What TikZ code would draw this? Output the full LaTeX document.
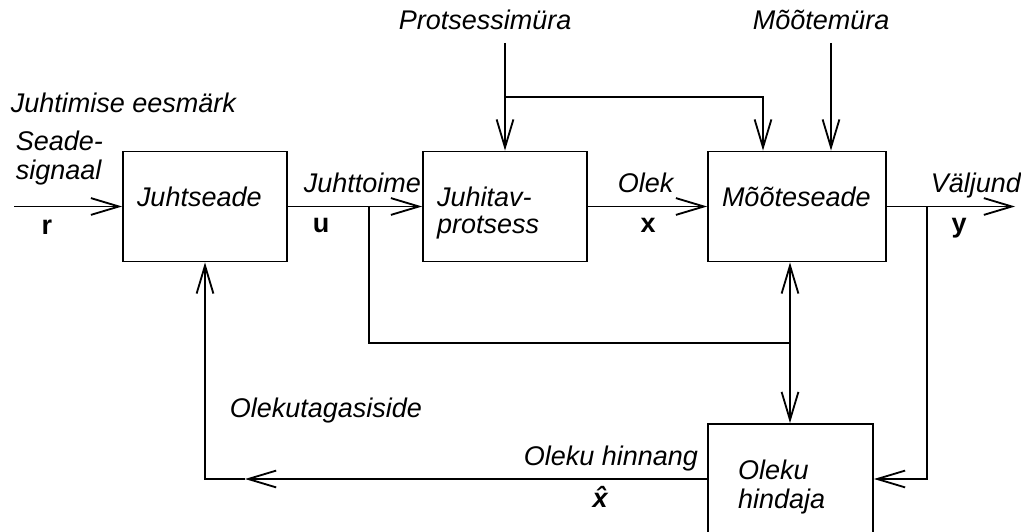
\documentclass[tikz,border=0pt]{standalone}
\usepackage{fontspec}
\setmainfont{Liberation Sans}
\usetikzlibrary{arrows.meta}

\begin{document}
\begin{tikzpicture}[
        font=\fontsize{19.2pt}{18.5pt}\selectfont\itshape,
        line width=1.3pt,
        >={Straight Barb[length=0.7cm,width=0.42cm]},
        plokk/.style={draw, minimum height=2.75cm, align=left, inner xsep=0.35cm,
            text height=0.46cm, text depth=0.435cm, text width=#1},
        plokk/.default=3.4cm,
        silt/.style={anchor=base west, inner sep=0pt, align=left},
        taht/.style={anchor=base, inner sep=0pt, font=\fontsize{19.2pt}{18.5pt}\selectfont\bfseries}
    ]
            \useasboundingbox (0,0) rectangle (25.525,13.275);

            % blocks
            \node[plokk] (juht) at (5.125,8.1125) {Juhtseade};
            \node[plokk] (prots) at (12.625,8.1125) {Juhitav-\\protsess};
            \node[plokk=3.75cm] (moot) at (19.925,8.1125) {Mõõteseade};
            \node[plokk=2.625cm, inner xsep=0.75cm] (hind) at (19.7625,1.3) {Oleku\\[0.075cm]hindaja};

            % branch points
            \coordinate (rin) at (0.35,8.1125);
            \coordinate (ujunc) at (9.225,8.1125);
            \coordinate (ulow) at (9.225,4.7);
            \coordinate (umid) at (19.75,4.7);
            \coordinate (pmtop) at (12.625,12.2);
            \coordinate (pmjunc) at (12.625,10.85);
            \coordinate (pmcorner) at (19.075,10.85);
            \coordinate (mmtop) at (20.775,12.2);
            \coordinate (yjunc) at (23.175,8.1125);
            \coordinate (yout) at (25.375,8.1125);
            \coordinate (fbtip) at (6.125,1.3);

            % main chain
            \draw[->] (rin) -- (juht);
            \draw[->] (juht) -- (prots);
            \draw[->] (prots) -- (moot);
            \draw[->] (moot) -- (yout);

            % noises
            \draw[->] (pmtop) -- (prots);
            \draw[->] (pmjunc) -- (pmcorner) -- (pmcorner |- moot.north);
            \draw[->] (mmtop) -- (mmtop |- moot.north);

            % u to measurement and estimator
            \draw (ujunc) -- (ulow) -- (umid);
            \draw[->] (umid) -- (umid |- moot.south);
            \draw[->] (umid) -- (umid |- hind.north);

            % y to estimator
            \draw[->] (yjunc) -- (yjunc |- hind.east) -- (hind.east);

            % state feedback
            \draw[->] (hind.west) -- (fbtip);
            \draw[->] (fbtip) -- (juht.south |- fbtip) -- (juht.south);

            % labels
            \node[silt] (eesm) at (0.25,10.45) {Juhtimise eesmärk};
            \node[silt] (seade) at (0.375,8.775) {Seade-\\[0.08cm]signaal};
            \node[taht] (r) at (1.17,7.4) {r};
            \node[silt] (juhttoime) at (7.575,8.45) {Juhttoime};
            \node[taht] (u) at (8.025,7.45) {u};
            \node[silt] (olek) at (15.425,8.45) {Olek};
            \node[taht] (x) at (16.2,7.45) {x};
            \node[silt] (valjund) at (23.25,8.45) {Väljund};
            \node[taht] (y) at (23.975,7.45) {y};
            \node[silt] (pmyra) at (9.95,12.525) {Protsessimüra};
            \node[silt] (mmyra) at (18.8,12.525) {Mõõtemüra};
            \node[silt] (tagasi) at (5.725,2.85) {Olekutagasiside};
            \node[silt] (hinnang) at (13.075,1.65) {Oleku hinnang};
            \node[taht] (xhat) at (15.0,0.6) {\itshape\^{x}};
        \end{tikzpicture}
\end{document}
